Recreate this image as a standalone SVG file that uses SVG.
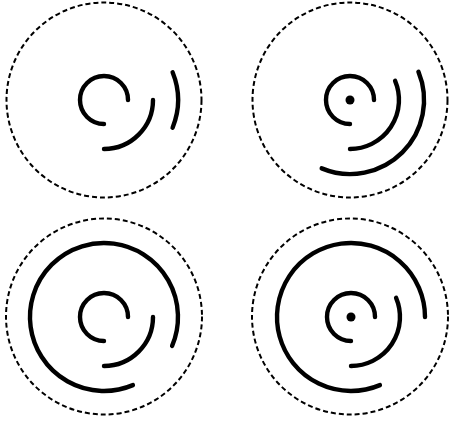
<svg xmlns="http://www.w3.org/2000/svg" width="450" height="421" viewBox="0 0 450 421">
<style>
.bound{fill:none;stroke:#000;stroke-width:2;stroke-dasharray:5 3}
.arc{fill:none;stroke:#000;stroke-width:4.4;stroke-linecap:round}
.dot{fill:#000}
</style>
<rect width="450" height="421" fill="#fff"/>
<g id="panel1">
<circle class="bound" cx="104" cy="100" r="97.5"/>
<path class="arc" d="M128,100 A24,24 0 1 0 104,124"/>
<path class="arc" d="M153,100 A49,49 0 0 1 104,149"/>
<path class="arc" d="M172.6,72.3 A74,74 0 0 1 172.6,127.7"/>
</g>
<g id="panel2">
<circle class="bound" cx="350" cy="100" r="97.5"/>
<circle class="dot" cx="350" cy="100" r="4.5"/>
<path class="arc" d="M374,100 A24,24 0 1 0 350,124"/>
<path class="arc" d="M395.1,80.9 A49,49 0 0 1 350,149"/>
<path class="arc" d="M418.4,71.7 A74,74 0 0 1 321.7,168.4"/>
</g>
<g id="panel3">
<circle class="bound" cx="104" cy="316.5" r="98"/>
<path class="arc" d="M128,317 A24,24 0 1 0 104,341"/>
<path class="arc" d="M153,317 A49,49 0 0 1 104,366"/>
<path class="arc" d="M172.1,345.9 A74,74 0 1 0 132.9,385.1"/>
</g>
<g id="panel4">
<circle class="bound" cx="350" cy="316.5" r="98"/>
<circle class="dot" cx="351" cy="317" r="4.5"/>
<path class="arc" d="M375,317 A24,24 0 1 0 351,341"/>
<path class="arc" d="M396.1,297.9 A49,49 0 0 1 351,366"/>
<path class="arc" d="M425,317 A74,74 0 1 0 379.9,385.1"/>
</g>
<g id="connectors"></g>
</svg>
